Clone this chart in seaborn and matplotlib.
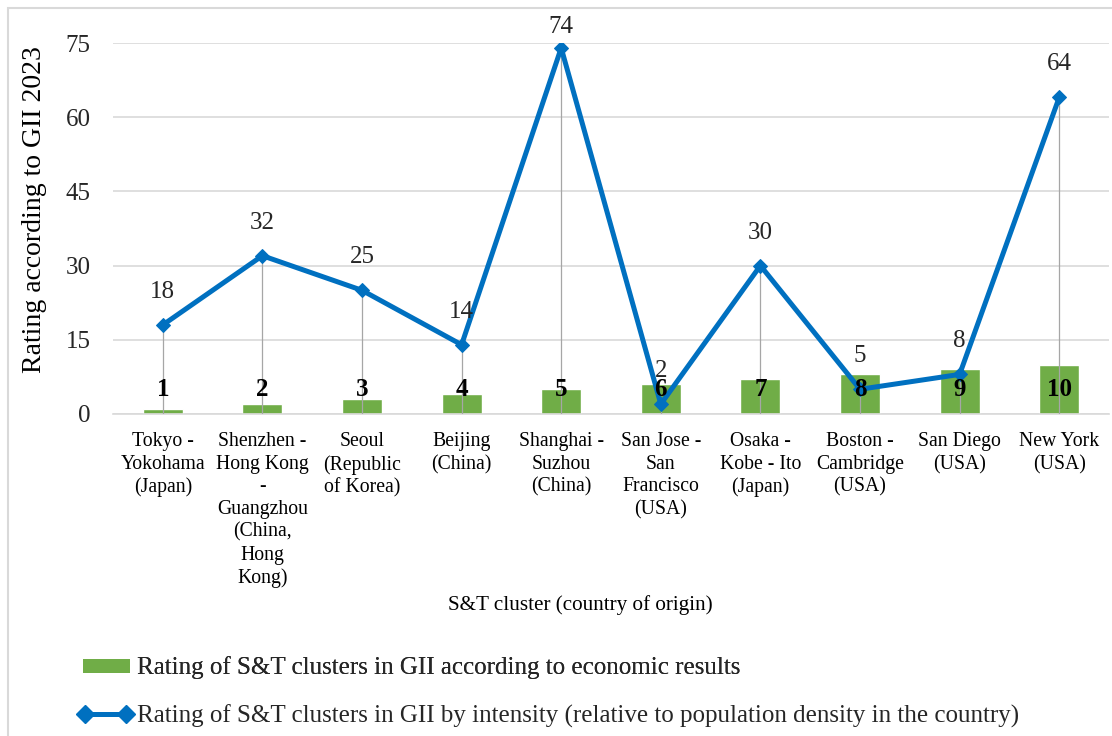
import numpy as np
import pandas as pd
import matplotlib
matplotlib.use("Agg")
import matplotlib.pyplot as plt
from matplotlib.patches import Rectangle, Patch
from matplotlib.lines import Line2D
import seaborn as sns

# Data
clusters = [
    "Tokyo -\nYokohama\n(Japan)",
    "Shenzhen -\nHong Kong\n-\nGuangzhou\n(China,\nHong\nKong)",
    "Seoul\n(Republic\nof Korea)",
    "Beijing\n(China)",
    "Shanghai -\nSuzhou\n(China)",
    "San Jose -\nSan\nFrancisco\n(USA)",
    "Osaka -\nKobe - Ito\n(Japan)",
    "Boston -\nCambridge\n(USA)",
    "San Diego\n(USA)",
    "New York\n(USA)",
]
economic_rank = [1, 2, 3, 4, 5, 6, 7, 8, 9, 10]
intensity_rank = [18, 32, 25, 14, 74, 2, 30, 5, 8, 64]
y_ticks = [0, 15, 30, 45, 60, 75]

bar_label = "Rating of S&T clusters in GII according to economic results"
line_label = "Rating of S&T clusters in GII by intensity (relative to population density in the country)"

sns.set_theme(style="white")
plt.rcParams["font.family"] = ["Liberation Serif", "DejaVu Serif"]

GREEN = "#70AD47"
BLUE = "#0070C0"
GRID = "#D9D9D9"
W, H = 1112, 736

fig = plt.figure(figsize=(W / 100, H / 100), dpi=100)
ax = fig.add_axes([113 / W, 1 - 414 / H, 996 / W, 371 / H])

df = pd.DataFrame({"cluster": clusters, "econ": economic_rank, "intensity": intensity_rank})
pos = np.arange(len(clusters))

sns.barplot(data=df, x="cluster", y="econ", color=GREEN, width=0.4,
            saturation=1, ax=ax, zorder=2)

# drop lines from each intensity point to the axis
ax.vlines(pos, 0, df["intensity"], color="#A6A6A6", lw=0.9, zorder=3)

sns.lineplot(x=pos, y=df["intensity"], color=BLUE, lw=3.6, marker="D",
             markersize=7, markeredgecolor=BLUE, ax=ax, zorder=4)

ax.set_xlim(-0.5, len(clusters) - 0.5)
ax.set_ylim(0, 75)

# value labels
for i, v in enumerate(economic_rank):
    ax.text(i, 4.9, str(v), ha="center", va="center", fontsize=18,
            fontweight="bold", color="black", zorder=5)

fig.canvas.draw()
for i, v in enumerate(intensity_rank):
    # keep labels inside the chart frame
    y_px = ax.transData.transform((i, v))[1]
    lift = min(33, (H - 27) - y_px)
    ax.annotate(str(v), (i, v), xytext=(0, lift * 0.72), textcoords="offset points",
                ha="center", va="center", fontsize=18, color="#262626",
                annotation_clip=False, zorder=5)

ax.set_yticks(y_ticks)
ax.yaxis.grid(True, color=GRID, lw=1.2)
ax.set_axisbelow(True)
for s in ["top", "right", "left"]:
    ax.spines[s].set_visible(False)
ax.spines["bottom"].set_color(GRID)
ax.spines["bottom"].set_linewidth(1.2)
ax.tick_params(axis="y", length=0, pad=16, labelsize=18, labelcolor="#262626")
ax.tick_params(axis="x", length=0, pad=13, labelsize=14.2, labelcolor="black")
for t in ax.get_xticklabels():
    t.set_linespacing(1.26)
    t.set_va("top")
ax.set_xlabel("")
ax.set_ylabel("")

fig.text(35 / W, 1 - 210 / H, "Rating according to GII 2023", rotation=90,
         ha="center", va="center", fontsize=20, color="black")
fig.text(580 / W, 1 - 605 / H, "S&T cluster (country of origin)",
         ha="center", va="center", fontsize=15.2, color="black")

# legend entries
h1 = Patch(facecolor=GREEN, edgecolor="none")
leg1 = fig.legend([h1], [bar_label], loc="center left",
                  bbox_to_anchor=(83 / W, 1 - 668 / H), frameon=False,
                  fontsize=18, handlelength=1.88, handleheight=0.48,
                  handletextpad=0.28, borderpad=0, borderaxespad=0)
h2 = Line2D([0], [0], color=BLUE, lw=3.6, marker="D", markersize=9)
leg2 = fig.legend([h2], [line_label], loc="center left",
                  bbox_to_anchor=(77 / W, 1 - 716 / H), frameon=False,
                  fontsize=18, handlelength=2.24, numpoints=2,
                  handletextpad=0.16, borderpad=0, borderaxespad=0)
fig.add_artist(leg1)

# outer chart frame
fig.patches.append(Rectangle((8 / W, -0.05), 1.2, 1 - 8 / H + 0.05,
                             transform=fig.transFigure, fill=False,
                             edgecolor=GRID, lw=1.5))

fig.savefig("out.png", dpi=100, facecolor="white")
